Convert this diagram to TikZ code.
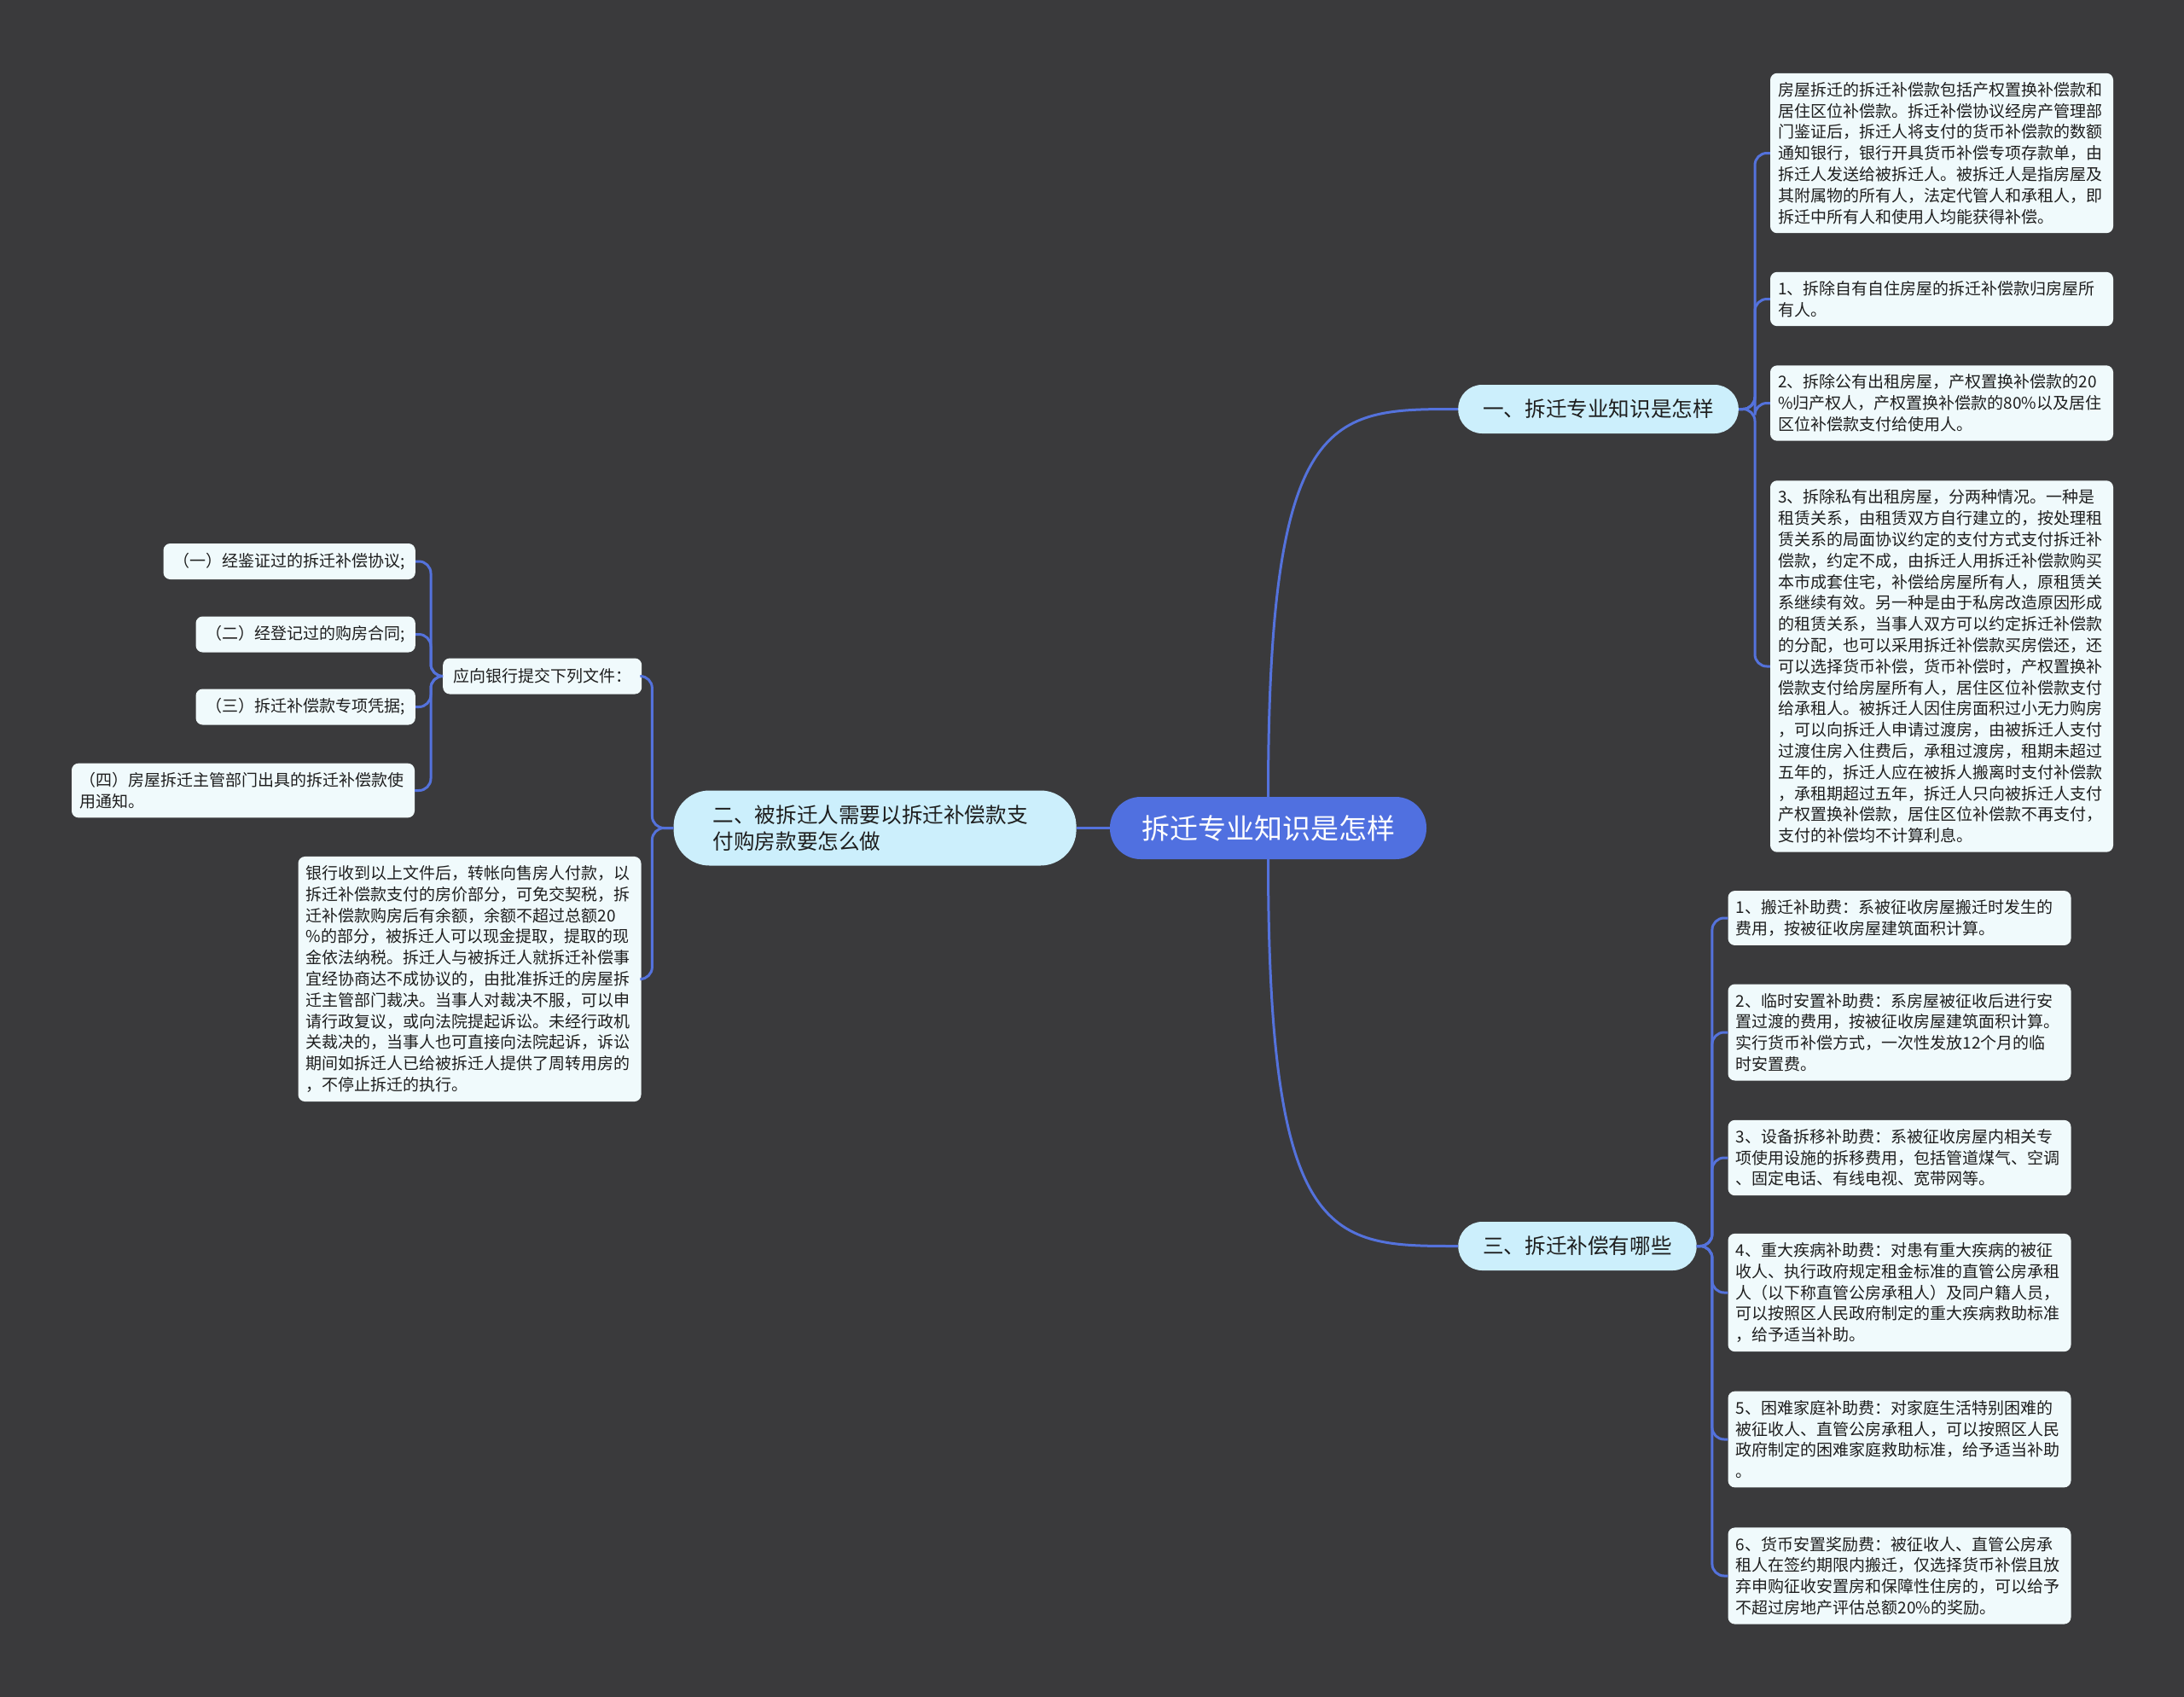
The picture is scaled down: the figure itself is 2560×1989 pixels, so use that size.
\documentclass[tikz,border=0pt]{standalone}
\usepackage{fontspec}
\setmainfont{Noto Sans CJK SC}
\usetikzlibrary{positioning}
\definecolor{canvas}{RGB}{58,58,60}
\definecolor{rootblue}{RGB}{80,112,224}
\definecolor{linkblue}{RGB}{84,114,220}
\definecolor{topicbg}{RGB}{204,239,252}
\definecolor{leafbg}{RGB}{240,250,252}
\definecolor{inkdark}{RGB}{30,30,30}

\begin{document}
\begin{tikzpicture}[
			x=1pt, y=-1pt,
			rootnode/.style={
				fill=rootblue, text=white, rounded corners=36pt,
				minimum height=73pt, inner xsep=37pt, font=\fontsize{33}{40}\selectfont
			},
			topic/.style={
				fill=topicbg, text=inkdark, rounded corners=28pt,
				minimum height=57pt, inner xsep=29pt, font=\fontsize{24.6}{31}\selectfont
			},
			leaf/.style={
				fill=leafbg, text=inkdark, rounded corners=8pt, align=left,
				text width=384pt, inner xsep=9pt, inner ysep=10.5pt, font=\fontsize{19}{24.8}\selectfont
			},
			tag/.style={
				fill=leafbg, text=inkdark, rounded corners=8pt,
				minimum height=42pt, inner xsep=12pt, font=\fontsize{19}{24.8}\selectfont
			},
			link/.style={draw=linkblue, line width=3pt, rounded corners=14pt}
			]
			
			% 0. CANVAS
			\fill[canvas] (0,0) rectangle (2560,1989);
			\useasboundingbox (0,0) rectangle (2560,1989);
			
			% 1. ROOT (Center)
			\node[rootnode] (root) at (1486.5,970.5) {拆迁专业知识是怎样};
			
			% 2. FIRST TOPIC (Upper right)
			\node[topic] (b1) at (1873.5,479.5) {一、拆迁专业知识是怎样};
			\draw[link] (root.north) .. controls (1486.5,479.5) and (1560,479.5) .. (b1.west);
			
			\node[leaf] (l1a) at (2276,179.5) {房屋拆迁的拆迁补偿款包括产权置换补偿款和\\居住区位补偿款。拆迁补偿协议经房产管理部\\门鉴证后，拆迁人将支付的货币补偿款的数额\\通知银行，银行开具货币补偿专项存款单，由\\拆迁人发送给被拆迁人。被拆迁人是指房屋及\\其附属物的所有人，法定代管人和承租人，即\\拆迁中所有人和使用人均能获得补偿。};
			\node[leaf] (l1b) at (2276,350.5) {1、拆除自有自住房屋的拆迁补偿款归房屋所\\有人。};
			\node[leaf] (l1c) at (2276,472.5) {2、拆除公有出租房屋，产权置换补偿款的20\\\%归产权人，产权置换补偿款的80\%以及居住\\区位补偿款支付给使用人。};
			\node[leaf] (l1d) at (2276,781) {3、拆除私有出租房屋，分两种情况。一种是\\租赁关系，由租赁双方自行建立的，按处理租\\赁关系的局面协议约定的支付方式支付拆迁补\\偿款，约定不成，由拆迁人用拆迁补偿款购买\\本市成套住宅，补偿给房屋所有人，原租赁关\\系继续有效。另一种是由于私房改造原因形成\\的租赁关系，当事人双方可以约定拆迁补偿款\\的分配，也可以采用拆迁补偿款买房偿还，还\\可以选择货币补偿，货币补偿时，产权置换补\\偿款支付给房屋所有人，居住区位补偿款支付\\给承租人。被拆迁人因住房面积过小无力购房\\，可以向拆迁人申请过渡房，由被拆迁人支付\\过渡住房入住费后，承租过渡房，租期未超过\\五年的，拆迁人应在被拆人搬离时支付补偿款\\，承租期超过五年，拆迁人只向被拆迁人支付\\产权置换补偿款，居住区位补偿款不再支付，\\支付的补偿均不计算利息。};
			\draw[link] (b1.east) -- ++(19,0) |- (l1a.west);
			\draw[link] (b1.east) -- ++(19,0) |- (l1b.west);
			\draw[link] (b1.east) -- ++(19,0) |- (l1c.west);
			\draw[link] (b1.east) -- ++(19,0) |- (l1d.west);
			
			% 3. THIRD TOPIC (Lower right)
			\node[topic] (b3) at (1849,1460.5) {三、拆迁补偿有哪些};
			\draw[link] (root.south) .. controls (1486.5,1460.5) and (1560,1460.5) .. (b3.west);
			
			\node[leaf] (l3a) at (2226.5,1076) {1、搬迁补助费：系被征收房屋搬迁时发生的\\费用，按被征收房屋建筑面积计算。};
			\node[leaf] (l3b) at (2226.5,1210) {2、临时安置补助费：系房屋被征收后进行安\\置过渡的费用，按被征收房屋建筑面积计算。\\实行货币补偿方式，一次性发放12个月的临\\时安置费。};
			\node[leaf] (l3c) at (2226.5,1357) {3、设备拆移补助费：系被征收房屋内相关专\\项使用设施的拆移费用，包括管道煤气、空调\\、固定电话、有线电视、宽带网等。};
			\node[leaf] (l3d) at (2226.5,1515) {4、重大疾病补助费：对患有重大疾病的被征\\收人、执行政府规定租金标准的直管公房承租\\人（以下称直管公房承租人）及同户籍人员，\\可以按照区人民政府制定的重大疾病救助标准\\，给予适当补助。};
			\node[leaf] (l3e) at (2226.5,1687) {5、困难家庭补助费：对家庭生活特别困难的\\被征收人、直管公房承租人，可以按照区人民\\政府制定的困难家庭救助标准，给予适当补助\\。};
			\node[leaf] (l3f) at (2226.5,1847) {6、货币安置奖励费：被征收人、直管公房承\\租人在签约期限内搬迁，仅选择货币补偿且放\\弃申购征收安置房和保障性住房的，可以给予\\不超过房地产评估总额20\%的奖励。};
			\draw[link] (b3.east) -- ++(18,0) |- (l3a.west);
			\draw[link] (b3.east) -- ++(18,0) |- (l3b.west);
			\draw[link] (b3.east) -- ++(18,0) |- (l3c.west);
			\draw[link] (b3.east) -- ++(18,0) |- (l3d.west);
			\draw[link] (b3.east) -- ++(18,0) |- (l3e.west);
			\draw[link] (b3.east) -- ++(18,0) |- (l3f.west);
			
			% 4. SECOND TOPIC (Left)
			\node[topic, align=left, text width=380pt, inner xsep=46pt, rounded corners=42pt, minimum height=88pt, left=39pt of root] (b2) {二、被拆迁人需要以拆迁补偿款支\\付购房款要怎么做};
			\draw[link] (root.west) -- (b2.east);
			
			\node[tag, anchor=west] (ask) at (519,792.5) {应向银行提交下列文件：};
			\node[leaf] (bank) at (550.5,1147.5) {银行收到以上文件后，转帐向售房人付款，以\\拆迁补偿款支付的房价部分，可免交契税，拆\\迁补偿款购房后有余额，余额不超过总额20\\\%的部分，被拆迁人可以现金提取，提取的现\\金依法纳税。拆迁人与被拆迁人就拆迁补偿事\\宜经协商达不成协议的，由批准拆迁的房屋拆\\迁主管部门裁决。当事人对裁决不服，可以申\\请行政复议，或向法院提起诉讼。未经行政机\\关裁决的，当事人也可直接向法院起诉，诉讼\\期间如拆迁人已给被拆迁人提供了周转用房的\\，不停止拆迁的执行。};
			\draw[link] (b2.west) -- ++(-25,0) |- (ask.east);
			\draw[link] (b2.west) -- ++(-25,0) |- (bank.east);
			
			% 5. DOCUMENT LIST (Far left)
			\node[tag, anchor=east] (doc1) at (487,658) {（一）经鉴证过的拆迁补偿协议;};
			\node[tag, anchor=east] (doc2) at (487,743.5) {（二）经登记过的购房合同;};
			\node[tag, anchor=east] (doc3) at (487,828.5) {（三）拆迁补偿款专项凭据;};
			\node[leaf] (doc4) at (285,926.5) {（四）房屋拆迁主管部门出具的拆迁补偿款使\\用通知。};
			\draw[link] (ask.west) -- ++(-14,0) |- (doc1.east);
			\draw[link] (ask.west) -- ++(-14,0) |- (doc2.east);
			\draw[link] (ask.west) -- ++(-14,0) |- (doc3.east);
			\draw[link] (ask.west) -- ++(-14,0) |- (doc4.east);
		\end{tikzpicture}
\end{document}
